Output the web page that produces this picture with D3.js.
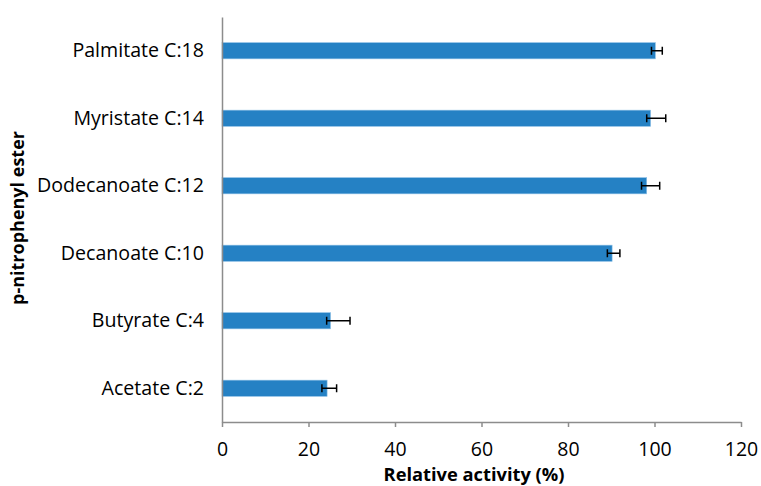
<!DOCTYPE html>
<html><head><meta charset="utf-8">
<script src="https://cdn.jsdelivr.net/npm/d3@7"></script>
<style>body{margin:0;background:#fff}svg{display:block}text{font-family:"Open Sans",sans-serif}</style>
</head><body>
<script>
const categories = ["Palmitate C:18","Myristate C:14","Dodecanoate C:12","Decanoate C:10","Butyrate C:4","Acetate C:2"];
const values = [100.2, 99.1, 98.2, 90.2, 25.1, 24.3];
const errMinus = [0.9, 0.9, 1.2, 1.1, 0.9, 1.2];
const errPlus = [1.6, 3.5, 3.0, 1.8, 4.5, 2.2];
const xTicks = [0,20,40,60,80,100,120];

const W=761,H=486;
const m={left:222,right:20,top:17,bottom:64};
const svg=d3.select("body").append("svg").attr("width",W).attr("height",H);
const x=d3.scaleLinear().domain([0,120]).range([m.left,741]);
const y=d3.scaleBand().domain(categories).range([m.top,H-m.bottom]).paddingInner(0.76).paddingOuter(0.38);

svg.append("g").selectAll("rect").data(categories).join("rect")
  .attr("x",x(0)).attr("y",d=>y(d)).attr("height",y.bandwidth())
  .attr("width",(d,i)=>x(values[i])-x(0)).attr("fill","#2581C4").attr("stroke","#8fc0e6").attr("stroke-width",0.6);

const eb=svg.append("g").attr("stroke","#000").attr("stroke-width",1.5);
categories.forEach((c,i)=>{
  const cy=y(c)+y.bandwidth()/2, x1=x(values[i]-errMinus[i]), x2=x(values[i]+errPlus[i]);
  eb.append("line").attr("x1",x1).attr("x2",x2).attr("y1",cy).attr("y2",cy);
  eb.append("line").attr("x1",x1).attr("x2",x1).attr("y1",cy-4).attr("y2",cy+4);
  eb.append("line").attr("x1",x2).attr("x2",x2).attr("y1",cy-4).attr("y2",cy+4);
});

const xa=svg.append("g").attr("transform",`translate(0,${H-m.bottom})`)
  .call(d3.axisBottom(x).tickValues(xTicks).tickSize(5).tickSizeOuter(0).tickPadding(15));
xa.select(".domain").attr("stroke","#8c8c8c").attr("stroke-width",1.5);
xa.selectAll(".tick line").attr("stroke","#8c8c8c").attr("stroke-width",1.5);
xa.selectAll("text").attr("font-size",19.5).attr("fill","#000").attr("font-family","Open Sans");

const ya=svg.append("g").attr("transform",`translate(${m.left},0)`)
  .call(d3.axisLeft(y).tickSize(0).tickPadding(18));
ya.select(".domain").attr("stroke","#8c8c8c").attr("stroke-width",1.5);
ya.selectAll("text").attr("font-size",19.6).attr("fill","#000").attr("font-family","Open Sans");

svg.append("text").attr("x",474).attr("y",481).attr("text-anchor","middle")
  .attr("font-size",18.3).attr("font-weight","bold").text("Relative activity (%)");
svg.append("text").attr("transform","translate(24,218) rotate(-90)").attr("text-anchor","middle")
  .attr("font-size",18).attr("font-weight","bold").text("p-nitrophenyl ester");
</script>
</body></html>
